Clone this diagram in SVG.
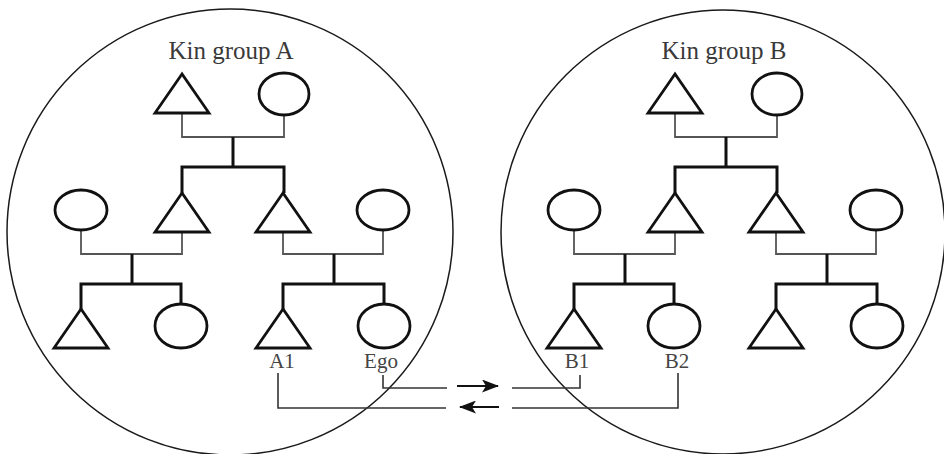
<svg xmlns="http://www.w3.org/2000/svg" width="944" height="454" viewBox="0 0 944 454">
<style>
.group{fill:none;stroke:#1a1a1a;stroke-width:1.5}
.shape{fill:none;stroke:#111;stroke-width:2.8;stroke-linejoin:miter}
.marr{fill:none;stroke:#555;stroke-width:1.8}
.desc{fill:none;stroke:#111;stroke-width:3}
.conn{fill:none;stroke:#333;stroke-width:1.6}
.arrow{fill:none;stroke:#111;stroke-width:2}
.title{font-family:"Liberation Serif",serif;font-size:25px;fill:#3a3a3a;text-anchor:middle}
.lbl{font-family:"Liberation Serif",serif;font-size:21px;fill:#444;text-anchor:middle}
</style>
<defs>
<polygon id="tri" points="0,0 -27,39 27,39" class="shape"/>
<marker id="ah" viewBox="0 0 17 13" refX="16" refY="6.5" markerWidth="17" markerHeight="13" markerUnits="userSpaceOnUse" orient="auto">
<path d="M0,0 L17,6.5 L0,13 L4,6.5 Z" fill="#111"/>
</marker>
</defs>
<rect width="944" height="454" fill="#fff"/>

<g id="kin-group-A">
<circle class="group" cx="230" cy="232" r="223"/>
<text class="title" x="231" y="59">Kin group A</text>
<g id="A-connectors">
<path class="marr" d="M182,113 V137 H284 V115"/>
<path class="desc" d="M233,137 V167 M182,193 V167 H284 V193"/>
<path class="marr" d="M81,230 V254 H182 V232"/>
<path class="marr" d="M283,232 V254 H383 V230"/>
<path class="desc" d="M132,254 V284 M81,309 V284 H181 V304"/>
<path class="desc" d="M334,254 V284 M283,309 V284 H384 V304"/>
</g>
<g id="A-gp-m"><use href="#tri" x="182" y="74"/></g>
<g id="A-gp-f"><ellipse class="shape" cx="284" cy="94" rx="25" ry="21"/></g>
<g id="A-p2-f1"><ellipse class="shape" cx="81" cy="210" rx="26" ry="20"/></g>
<g id="A-p2-m1"><use href="#tri" x="182" y="193"/></g>
<g id="A-p2-m2"><use href="#tri" x="283" y="193"/></g>
<g id="A-p2-f2"><ellipse class="shape" cx="383" cy="210" rx="26" ry="20"/></g>
<g id="A-c-m1"><use href="#tri" x="81" y="309"/></g>
<g id="A-c-f1"><ellipse class="shape" cx="181" cy="326" rx="26" ry="22"/></g>
<g id="A1"><use href="#tri" x="283" y="309"/><text class="lbl" x="282" y="368">A1</text></g>
<g id="Ego"><ellipse class="shape" cx="384" cy="326" rx="26" ry="22"/><text class="lbl" x="381" y="368">Ego</text></g>
</g>

<g id="kin-group-B">
<circle class="group" cx="723" cy="232" r="222"/>
<text class="title" x="724" y="59">Kin group B</text>
<g id="B-connectors" transform="translate(493,0)">
<path class="marr" d="M182,113 V137 H284 V115"/>
<path class="desc" d="M233,137 V167 M182,193 V167 H284 V193"/>
<path class="marr" d="M81,230 V254 H182 V232"/>
<path class="marr" d="M283,232 V254 H383 V230"/>
<path class="desc" d="M132,254 V284 M81,309 V284 H181 V304"/>
<path class="desc" d="M334,254 V284 M283,309 V284 H384 V304"/>
</g>
<g id="B-gp-m"><use href="#tri" x="675" y="74"/></g>
<g id="B-gp-f"><ellipse class="shape" cx="777" cy="94" rx="25" ry="21"/></g>
<g id="B-p2-f1"><ellipse class="shape" cx="574" cy="210" rx="26" ry="20"/></g>
<g id="B-p2-m1"><use href="#tri" x="675" y="193"/></g>
<g id="B-p2-m2"><use href="#tri" x="776" y="193"/></g>
<g id="B-p2-f2"><ellipse class="shape" cx="876" cy="210" rx="26" ry="20"/></g>
<g id="B1"><use href="#tri" x="574" y="309"/><text class="lbl" x="577" y="368">B1</text></g>
<g id="B2"><ellipse class="shape" cx="674" cy="326" rx="26" ry="22"/><text class="lbl" x="677" y="368">B2</text></g>
<g id="B-c-m2"><use href="#tri" x="776" y="309"/></g>
<g id="B-c-f2"><ellipse class="shape" cx="877" cy="326" rx="26" ry="22"/></g>
</g>

<g id="exchange-connectors">
<path class="conn" d="M383,375 V388 H447"/>
<path class="conn" d="M512,388 H580 V375"/>
<path class="conn" d="M278,373 V408 H446"/>
<path class="conn" d="M512,408 H678 V373"/>
<line class="arrow" x1="457" y1="386" x2="498" y2="386" marker-end="url(#ah)"/>
<line class="arrow" x1="499" y1="407" x2="460" y2="407" marker-end="url(#ah)"/>
</g>
</svg>
